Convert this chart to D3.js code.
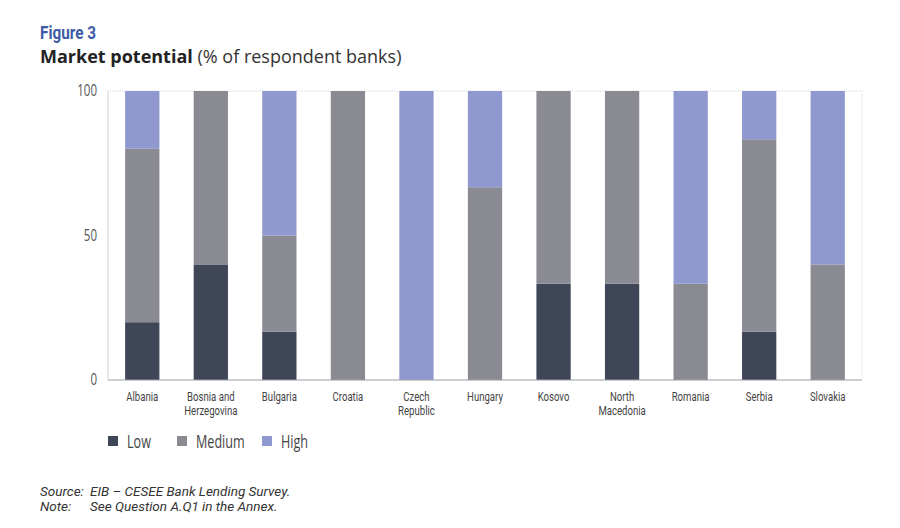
<!DOCTYPE html>
<html>
<head>
<meta charset="utf-8">
<script src="https://cdn.jsdelivr.net/npm/d3@7"></script>
<style>
  body { margin: 0; background: #fff; }
  svg { font-family: "Open Sans", sans-serif; }
</style>
</head>
<body>
<svg id="chart" width="900" height="528"></svg>
<script>
/* DATA */
const countries = ["Albania", "Bosnia and\nHerzegovina", "Bulgaria", "Croatia", "Czech\nRepublic",
  "Hungary", "Kosovo", "North\nMacedonia", "Romania", "Serbia", "Slovakia"];
const low    = [20, 40, 16.7, 0, 0, 0, 33.3, 33.3, 0, 16.7, 0];
const medium = [60, 60, 33.3, 100, 0, 66.7, 66.7, 66.7, 33.3, 66.6, 40];
const high   = [20, 0, 50, 0, 100, 33.3, 0, 0, 66.7, 16.7, 60];
const seriesNames = ["Low", "Medium", "High"];
const yTicks = [0, 50, 100];

const colors = { Low: "#3f4657", Medium: "#8a8a93", High: "#8f99d0" };

/* LAYOUT */
const margin = { top: 91, left: 108, right: 38, bottom: 148 };
const width = 900, height = 528;
const svg = d3.select("#chart");

// the reference uses a condensed face, so squeeze text horizontally
const squeeze = (x, y, s) => `translate(${x},${y}) scale(${s},1)`;

// build table for stacking
const table = countries.map((c, i) => ({ country: c, Low: low[i], Medium: medium[i], High: high[i] }));
const stacked = d3.stack().keys(seriesNames)(table);

const x = d3.scaleBand()
  .domain(countries)
  .range([margin.left, width - margin.right])
  .paddingInner(0.5)
  .paddingOuter(0.25);

const y = d3.scaleLinear()
  .domain([0, 100])
  .range([height - margin.bottom, margin.top]);

// plot frame (faint dotted top/right)
svg.append("path")
  .attr("d", `M${margin.left},${y(100)}H${width - margin.right}V${y(0)}`)
  .attr("fill", "none")
  .attr("stroke", "#d6d8e0")
  .attr("stroke-dasharray", "1,1");

svg.append("line")
  .attr("x1", margin.left).attr("x2", margin.left)
  .attr("y1", y(100)).attr("y2", y(0))
  .attr("stroke", "#d0d2da");

// bars
svg.append("g").selectAll("g")
  .data(stacked)
  .join("g")
    .attr("fill", d => colors[d.key])
  .selectAll("rect")
  .data(d => d)
  .join("rect")
    .attr("x", d => x(d.data.country))
    .attr("y", d => y(d[1]))
    .attr("width", x.bandwidth())
    .attr("height", d => y(d[0]) - y(d[1]));

// bottom axis line
svg.append("line")
  .attr("x1", margin.left).attr("x2", width - margin.right)
  .attr("y1", y(0)).attr("y2", y(0))
  .attr("stroke", "#9a9ca6");

// y tick labels
svg.append("g").selectAll("text")
  .data(yTicks)
  .join("text")
    .attr("transform", d => squeeze(margin.left - 11, y(d) + 5, 0.72))
    .attr("text-anchor", "end")
    .attr("font-size", 16)
    .attr("fill", "#555")
    .text(d => d);

// category labels (Roboto has a tighter line box, so two lines don't collide)
const catG = svg.append("g").selectAll("text")
  .data(countries)
  .join("text")
    .attr("transform", d => squeeze(x(d) + x.bandwidth() / 2, y(0) + 21, 0.8))
    .attr("text-anchor", "middle")
    .attr("font-family", "Roboto, sans-serif")
    .attr("font-size", 12)
    .attr("fill", "#444");
catG.selectAll("tspan")
  .data(d => d.split("\n"))
  .join("tspan")
    .attr("x", 0)
    .attr("dy", (d, i) => i ? 14.2 : 0)
    .text(d => d);

// legend
const legendX = [108, 177, 262];
const leg = svg.append("g").selectAll("g")
  .data(seriesNames)
  .join("g")
    .attr("transform", (d, i) => `translate(${legendX[i]},436)`);
leg.append("rect")
  .attr("width", 10).attr("height", 10)
  .attr("fill", d => colors[d]);
leg.append("text")
  .attr("transform", squeeze(19, 12, 0.7))
  .attr("font-size", 18)
  .attr("fill", "#444")
  .text(d => d);

// titles
svg.append("text")
  .attr("transform", squeeze(40, 39, 0.85))
  .attr("font-family", "Roboto, sans-serif")
  .attr("font-size", 18)
  .attr("font-weight", "bold")
  .attr("fill", "#3d5ba6")
  .text("Figure 3");

const t = svg.append("text")
  .attr("x", 40).attr("y", 63)
  .attr("font-size", 18)
  .attr("fill", "#222");
t.append("tspan").attr("font-weight", "bold").text("Market potential ");
t.append("tspan").attr("fill", "#333").text("(% of respondent banks)");

// source / note
const notes = [["Source:", "EIB \u2013 CESEE Bank Lending Survey."], ["Note:", "See Question A.Q1 in the Annex."]];
const nt = svg.append("g").selectAll("g")
  .data(notes)
  .join("g")
    .attr("transform", (d, i) => `translate(40,${496 + i * 15})`)
    .attr("font-family", "Roboto, sans-serif")
    .attr("font-style", "italic")
    .attr("font-size", 13.5)
    .attr("fill", "#333");
nt.append("text").text(d => d[0]);
nt.append("text").attr("x", 50).text(d => d[1]);
</script>
</body>
</html>
